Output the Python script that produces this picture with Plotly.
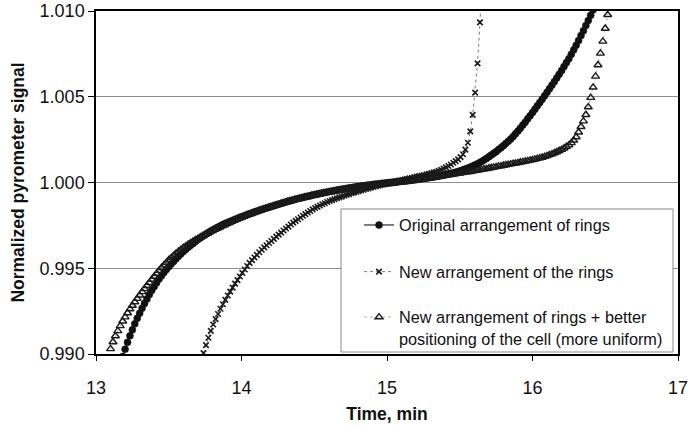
import plotly.graph_objects as go

# Pyrometer signal sampled once per second (time axis in minutes)
SAMPLE_STEP_MIN = 1 / 60

# Original arrangement of rings
orig_start = 13.1833
orig_signal = [
    0.98985, 0.99028,
    0.99068, 0.99106, 0.99141, 0.99176, 0.99208, 0.99238, 0.99267, 0.99295, 0.99321,
    0.99347, 0.99371, 0.99394, 0.99416, 0.99437, 0.99456, 0.99475, 0.99493, 0.99509,
    0.99525, 0.99540, 0.99555, 0.99570, 0.99584, 0.99597, 0.99610, 0.99622, 0.99634,
    0.99645, 0.99656, 0.99667, 0.99677, 0.99687, 0.99696, 0.99705, 0.99714, 0.99722,
    0.99730, 0.99738, 0.99745, 0.99752, 0.99759, 0.99765, 0.99771, 0.99777, 0.99783,
    0.99789, 0.99795, 0.99800, 0.99805, 0.99811, 0.99816, 0.99821, 0.99826, 0.99831,
    0.99836, 0.99841, 0.99845, 0.99850, 0.99854, 0.99859, 0.99863, 0.99868, 0.99872,
    0.99876, 0.99881, 0.99885, 0.99889, 0.99893, 0.99897, 0.99901, 0.99905, 0.99908,
    0.99911, 0.99915, 0.99918, 0.99921, 0.99925, 0.99928, 0.99931, 0.99934, 0.99937,
    0.99940, 0.99943, 0.99946, 0.99949, 0.99951, 0.99954, 0.99957, 0.99959, 0.99962,
    0.99964, 0.99967, 0.99969, 0.99971, 0.99974, 0.99976, 0.99978, 0.99980, 0.99982,
    0.99984, 0.99986, 0.99988, 0.99990, 0.99991, 0.99993, 0.99995, 0.99996, 0.99998,
    1.00000, 1.00001, 1.00003, 1.00005, 1.00006, 1.00008, 1.00010, 1.00011, 1.00013,
    1.00015, 1.00016, 1.00018, 1.00020, 1.00022, 1.00024, 1.00026, 1.00028, 1.00030,
    1.00032, 1.00035, 1.00037, 1.00040, 1.00042, 1.00045, 1.00048, 1.00052, 1.00055,
    1.00059, 1.00063, 1.00067, 1.00072, 1.00077, 1.00082, 1.00088, 1.00094, 1.00100,
    1.00107, 1.00114, 1.00122, 1.00131, 1.00140, 1.00150, 1.00160, 1.00170, 1.00180,
    1.00192, 1.00203, 1.00215, 1.00228, 1.00240, 1.00253, 1.00268, 1.00284, 1.00300,
    1.00317, 1.00335, 1.00352, 1.00371, 1.00389, 1.00408, 1.00427, 1.00447, 1.00466,
    1.00486, 1.00506, 1.00526, 1.00547, 1.00567, 1.00588, 1.00610, 1.00631, 1.00653,
    1.00676, 1.00699, 1.00722, 1.00748, 1.00774, 1.00800, 1.00828, 1.00857, 1.00885,
    1.00915, 1.00945, 1.00975, 1.01006, 1.01038,
]

# New arrangement of the rings
new_start = 13.739
new_signal = [
    0.99005, 0.99052, 0.99095, 0.99135, 0.99172, 0.99203, 0.99233, 0.99264, 0.99290,
    0.99316, 0.99341, 0.99364, 0.99387, 0.99410, 0.99431, 0.99452, 0.99473, 0.99493,
    0.99513, 0.99531, 0.99547, 0.99563, 0.99578, 0.99593, 0.99608, 0.99622, 0.99634,
    0.99647, 0.99659, 0.99671, 0.99684, 0.99696, 0.99708, 0.99720, 0.99732, 0.99743,
    0.99755, 0.99766, 0.99776, 0.99786, 0.99796, 0.99806, 0.99816, 0.99825, 0.99834,
    0.99843, 0.99851, 0.99858, 0.99866, 0.99873, 0.99879, 0.99886, 0.99892, 0.99897,
    0.99903, 0.99908, 0.99913, 0.99918, 0.99923, 0.99928, 0.99932, 0.99937, 0.99941,
    0.99945, 0.99950, 0.99954, 0.99958, 0.99962, 0.99966, 0.99970, 0.99974, 0.99977,
    0.99981, 0.99985, 0.99988, 0.99991, 0.99994, 0.99998, 1.00001, 1.00004, 1.00008,
    1.00011, 1.00014, 1.00018, 1.00021, 1.00024, 1.00028, 1.00031, 1.00034, 1.00038,
    1.00041, 1.00044, 1.00048, 1.00051, 1.00055, 1.00059, 1.00063, 1.00068, 1.00074,
    1.00081, 1.00088, 1.00096, 1.00105, 1.00115, 1.00125, 1.00135, 1.00148, 1.00165,
    1.00192, 1.00232, 1.00298, 1.00394, 1.00524, 1.00695, 1.00934, 1.01250,
]

# New arrangement of rings + better positioning of the cell
uniform_start = 13.10
uniform_signal = [
    0.99030,
    0.99070, 0.99105, 0.99135, 0.99164, 0.99191, 0.99215, 0.99239, 0.99262, 0.99283,
    0.99303, 0.99323, 0.99343, 0.99362, 0.99380, 0.99398, 0.99416, 0.99434, 0.99452,
    0.99469, 0.99486, 0.99503, 0.99518, 0.99533, 0.99548, 0.99561, 0.99574, 0.99587,
    0.99598, 0.99609, 0.99620, 0.99629, 0.99639, 0.99648, 0.99656, 0.99665, 0.99673,
    0.99681, 0.99688, 0.99696, 0.99703, 0.99711, 0.99718, 0.99725, 0.99732, 0.99739,
    0.99746, 0.99752, 0.99759, 0.99765, 0.99772, 0.99778, 0.99784, 0.99790, 0.99796,
    0.99802, 0.99807, 0.99813, 0.99818, 0.99824, 0.99829, 0.99834, 0.99839, 0.99844,
    0.99849, 0.99853, 0.99858, 0.99862, 0.99867, 0.99871, 0.99875, 0.99880, 0.99884,
    0.99888, 0.99892, 0.99896, 0.99900, 0.99903, 0.99907, 0.99910, 0.99914, 0.99917,
    0.99920, 0.99924, 0.99927, 0.99930, 0.99933, 0.99936, 0.99939, 0.99941, 0.99944,
    0.99947, 0.99949, 0.99952, 0.99954, 0.99957, 0.99959, 0.99961, 0.99964, 0.99966,
    0.99968, 0.99970, 0.99972, 0.99974, 0.99976, 0.99978, 0.99980, 0.99981, 0.99983,
    0.99985, 0.99986, 0.99988, 0.99989, 0.99990, 0.99991, 0.99993, 0.99994, 0.99996,
    0.99998, 0.99999, 1.00001, 1.00003, 1.00004, 1.00006, 1.00008, 1.00010, 1.00012,
    1.00014, 1.00017, 1.00019, 1.00021, 1.00024, 1.00026, 1.00028, 1.00031, 1.00033,
    1.00035, 1.00038, 1.00040, 1.00042, 1.00045, 1.00047, 1.00049, 1.00052, 1.00054,
    1.00056, 1.00059, 1.00061, 1.00063, 1.00066, 1.00068, 1.00070, 1.00073, 1.00075,
    1.00078, 1.00080, 1.00083, 1.00086, 1.00088, 1.00091, 1.00094, 1.00096, 1.00099,
    1.00102, 1.00104, 1.00107, 1.00110, 1.00112, 1.00115, 1.00118, 1.00120, 1.00123,
    1.00126, 1.00129, 1.00132, 1.00135, 1.00139, 1.00142, 1.00146, 1.00151, 1.00155,
    1.00161, 1.00166, 1.00172, 1.00178, 1.00185, 1.00192, 1.00200, 1.00209, 1.00218,
    1.00231, 1.00246, 1.00265, 1.00293, 1.00325, 1.00358, 1.00395, 1.00440, 1.00495,
    1.00555, 1.00619, 1.00685, 1.00753, 1.00823, 1.00898, 1.00978, 1.01063,
]

series_names = [
    "Original arrangement of rings",
    "New arrangement of the rings",
    "New arrangement of rings + better<br>positioning of the cell (more uniform)",
]

x_ticks = [13, 14, 15, 16, 17]
y_ticks = [0.990, 0.995, 1.000, 1.005, 1.010]
y_tick_text = ["0.990", "0.995", "1.000", "1.005", "1.010"]

FONT = "Liberation Sans, Arial, sans-serif"

fig = go.Figure()

fig.add_trace(go.Scatter(
    name=series_names[0], legend="legend",
    y=orig_signal, x0=orig_start, dx=SAMPLE_STEP_MIN,
    mode="lines+markers",
    line=dict(color="#000000", width=1),
    marker=dict(symbol="circle", size=7, color="#111111",
                line=dict(color="#111111", width=0.5)),
))

fig.add_trace(go.Scatter(
    name=series_names[1], legend="legend2",
    y=new_signal, x0=new_start, dx=SAMPLE_STEP_MIN,
    mode="lines+markers",
    line=dict(color="#7a7a7a", width=1, dash="dot"),
    marker=dict(symbol="x-thin", size=5.5, color="#1a1a1a",
                line=dict(color="#1a1a1a", width=1.6)),
))

fig.add_trace(go.Scatter(
    name=series_names[2], legend="legend3",
    y=uniform_signal, x0=uniform_start, dx=SAMPLE_STEP_MIN,
    mode="lines+markers",
    line=dict(color="#b0b0b0", width=1, dash="dot"),
    marker=dict(symbol="triangle-up-open", size=7, color="#1a1a1a",
                line=dict(color="#1a1a1a", width=1.4)),
))

# Legend frame (opaque box in the lower right of the plot area)
fig.add_shape(
    type="rect", xref="paper", yref="paper",
    x0=0.421, x1=0.9914, y0=0.0058, y1=0.4227,
    fillcolor="white", line=dict(color="#8a8a8a", width=1), layer="above",
)

legend_common = dict(
    x=0.4519, xanchor="left", yanchor="middle",
    bgcolor="rgba(0,0,0,0)", borderwidth=0,
    font=dict(family=FONT, size=16.3, color="#111111"),
    itemwidth=30, valign="top",
)

fig.update_layout(
    width=688, height=427,
    margin=dict(l=96, r=10, t=11, b=73),
    paper_bgcolor="white", plot_bgcolor="white",
    font=dict(family=FONT, color="#111111"),
    showlegend=True,
    legend=dict(y=0.3750, **legend_common),
    legend2=dict(y=0.2390, **legend_common),
    legend3=dict(y=0.0760, **legend_common),
    xaxis=dict(
        range=[13, 17], tickvals=x_ticks, ticktext=[str(v) for v in x_ticks],
        automargin=False, ticklabeloverflow="allow",
        showgrid=False, zeroline=False,
        showline=True, linecolor="#000000", linewidth=1.5, mirror=True,
        ticks="outside", ticklen=5, tickcolor="#000000", tickwidth=1,
        tickfont=dict(family=FONT, size=18, color="#111111"),
        ticklabelstandoff=12,
        title=dict(text="<b>Time, min</b>", standoff=10,
                   font=dict(family=FONT, size=17.5, color="#111111")),
    ),
    yaxis=dict(
        range=[0.990, 1.010], tickvals=y_ticks, ticktext=y_tick_text,
        automargin=False, ticklabeloverflow="allow",
        showgrid=True, gridcolor="#8c8c8c", gridwidth=1, zeroline=False,
        showline=True, linecolor="#000000", linewidth=1.5, mirror=True,
        ticks="outside", ticklen=6, tickcolor="#000000", tickwidth=1,
        tickfont=dict(family=FONT, size=18, color="#111111"),
        title=dict(text="<b>Normalized pyrometer signal</b>", standoff=10,
                   font=dict(family=FONT, size=17.5, color="#111111")),
    ),
)

fig.write_html("out.html")
